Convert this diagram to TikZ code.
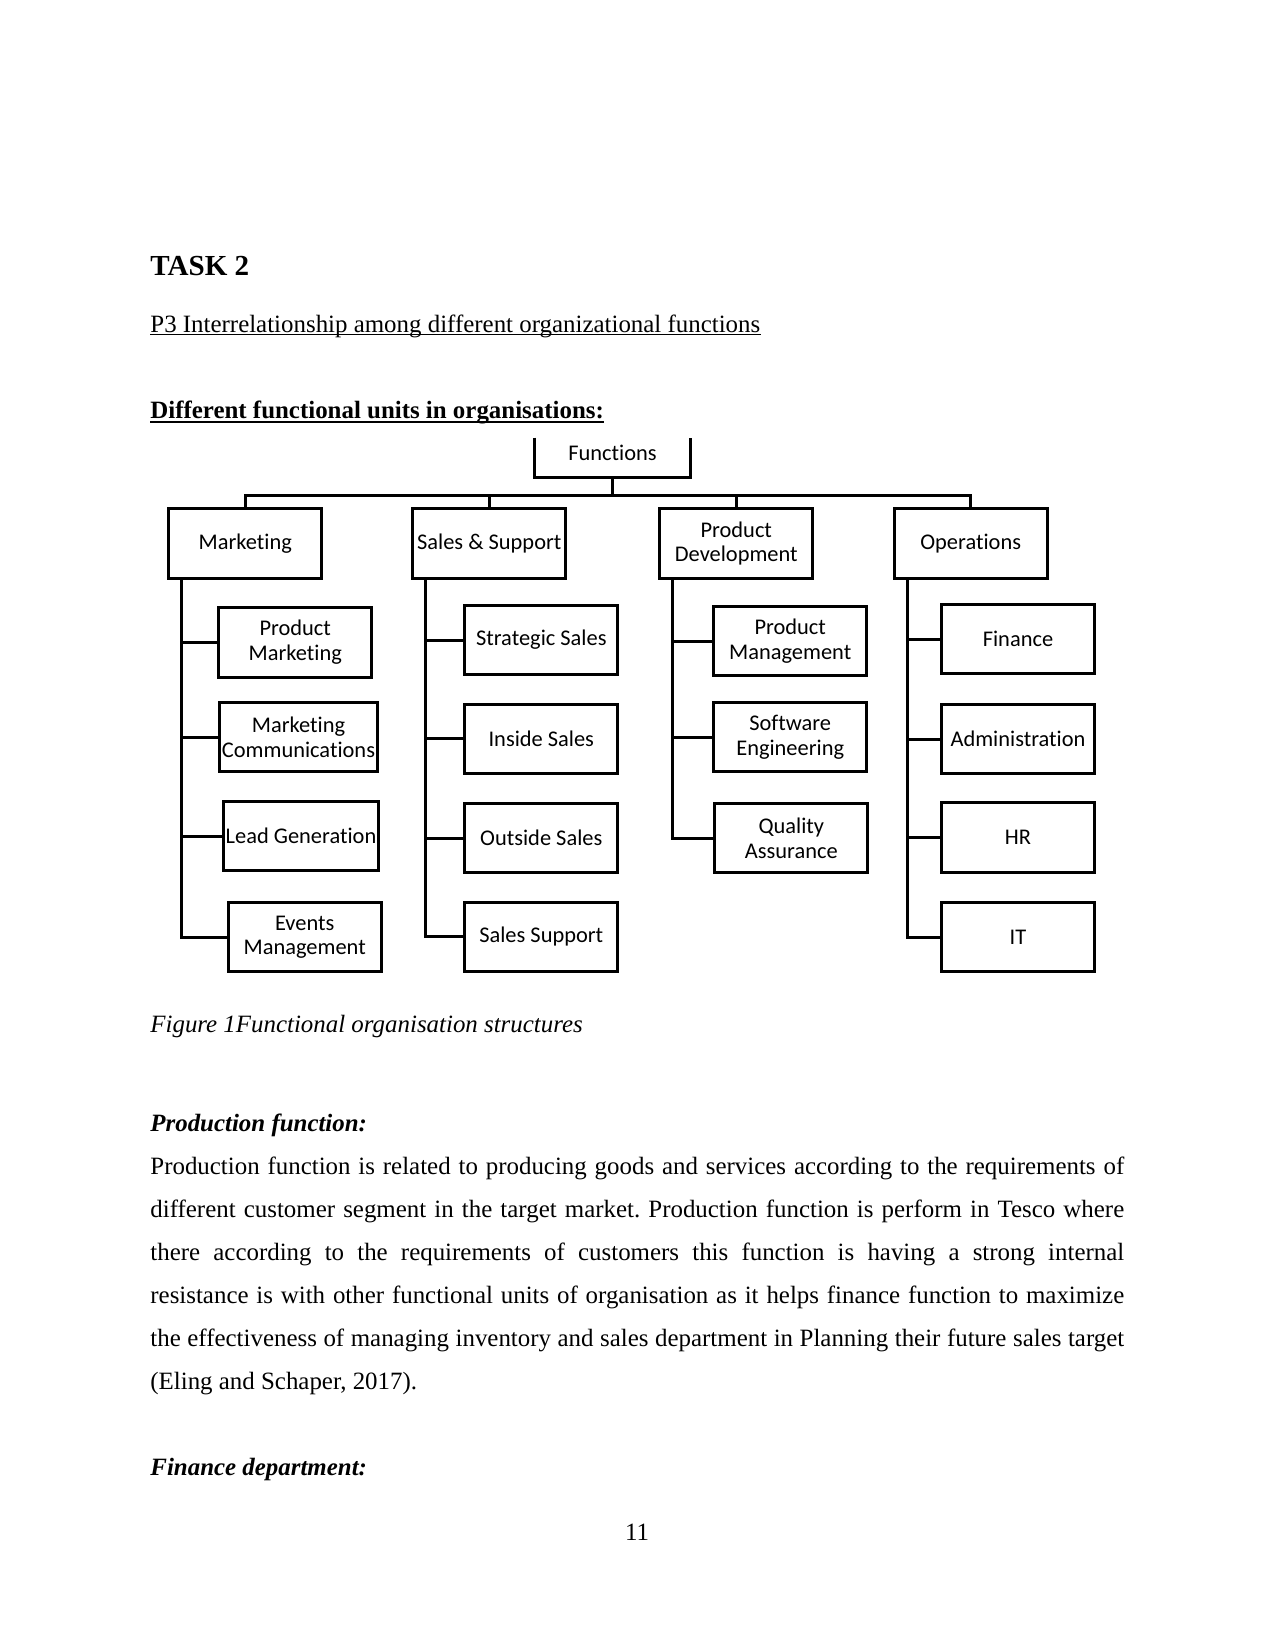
\documentclass[tikz,border=0pt]{standalone}
\usepackage{fontspec}
\setmainfont{Liberation Serif}
\newfontfamily\chartfont[Ligatures=NoCommon]{Carlito}
\usetikzlibrary{calc}
\frenchspacing

\begin{document}
\begin{tikzpicture}[
        x=0.48bp, y=-0.48bp,
        unit/.style={draw,line width=1.45pt,minimum width=73.4bp,minimum height=33.2bp,inner sep=1pt,align=center,font=\chartfont\fontsize{10.8}{12}\selectfont},
        link/.style={line width=1.45pt},
        body/.style={anchor=base west,inner sep=0pt,font=\fontsize{12}{14}\selectfont},
        uline/.style={line width=0.6pt}
      ]
        \useasboundingbox (0,0) rectangle (1275,1650);

        % page text above the chart
        \node[body,font=\fontsize{14}{16}\selectfont\bfseries] (task) at (150,275) {TASK 2};
        \node[body] (ptitle) at (150,332) {P3 Interrelationship among different organizational functions};
        \draw[uline] ([yshift=-1.3bp]ptitle.base west) -- ([yshift=-1.3bp]ptitle.base east);
        \node[body,font=\fontsize{12}{14}\selectfont\bfseries] (units) at (150,418.7) {Different functional units in organisations:};
        \draw[uline,line width=0.9pt] ([yshift=-1.4bp]units.base west) -- ([yshift=-1.4bp]units.base east);

        % chart
        \node[unit,draw=none,minimum height=19.2bp,text depth=3.4bp] (functions) at (612.5,456) {Functions};
        \draw[link] ([yshift=-1.5bp]functions.north west) |- (functions.south east) -- ([yshift=-1.5bp]functions.north east);

        \node[unit] (mkt)   at (245.3,543.5) {Marketing};
        \node[unit] (sales) at (489.3,543.5) {Sales \& Support};
        \node[unit] (pdev)  at (736.3,543.5) {Product\\Development};
        \node[unit] (ops)   at (970.7,543.5) {Operations};

        \node[unit] (pm)  at (295.2,642.5) {Product\\Marketing};
        \node[unit] (mc)  at (298.5,737)   {Marketing\\Communications};
        \node[unit] (lg)  at (301,836.2)   {Lead Generation};
        \node[unit] (em)  at (304.7,937.2) {Events\\Management};

        \node[unit] (ss)  at (541.3,640)   {Strategic Sales};
        \node[unit] (ins) at (541.3,738.7) {Inside Sales};
        \node[unit] (os)  at (541.3,838)   {Outside Sales};
        \node[unit] (sup) at (541.3,936.9) {Sales Support};

        \node[unit] (pmg) at (790.2,641)   {Product\\Management};
        \node[unit] (se)  at (790.2,737)   {Software\\Engineering};
        \node[unit] (qa)  at (791.3,838)   {Quality\\Assurance};

        \node[unit] (fin) at (1018,639.3)  {Finance};
        \node[unit] (adm) at (1018,739)    {Administration};
        \node[unit] (hr)  at (1018,837.5)  {HR};
        \node[unit] (it)  at (1018,937.2)  {IT};

        \coordinate (bus) at (612.5,495);
        \draw[link] (functions.south) -- (bus);
        \foreach \u in {mkt,sales,pdev,ops}
          \draw[link] (\u.north) |- (bus);

        \foreach \u/\kids in {mkt/{pm,mc,lg,em},sales/{ss,ins,os,sup},pdev/{pmg,se,qa},ops/{fin,adm,hr,it}}
          \foreach \k in \kids
            \draw[link] ($(\u.south west)+(14.5,0)$) |- (\k.west);

        % caption and text below
        \node[body,font=\fontsize{12}{14}\selectfont\itshape] (caption) at (150,1032) {Figure 1Functional organisation structures};
        \node[body,font=\fontsize{12}{14}\selectfont\bfseries\itshape] (prodhead) at (150,1131) {Production function:};
        \node[body] (l1) at (150,1174) {\makebox[467.4bp][s]{Production function is related to producing goods and services according to the requirements of}};
        \node[body] (l2) at (150,1217) {\makebox[467.4bp][s]{different customer segment in the target market. Production function is perform in Tesco where}};
        \node[body] (l3) at (150,1260) {\makebox[467.4bp][s]{there according to the requirements of customers this function is having a strong internal}};
        \node[body] (l4) at (150,1303) {\makebox[467.4bp][s]{resistance is with other functional units of organisation as it helps finance function to maximize}};
        \node[body] (l5) at (150,1346) {\makebox[467.4bp][s]{the effectiveness of managing inventory and sales department in Planning their future sales target}};
        \node[body] (l6) at (150,1389) {(Eling and Schaper, 2017).};
        \node[body,font=\fontsize{12}{14}\selectfont\bfseries\itshape] (finhead) at (150,1475) {Finance department:};
        \node[body,anchor=base] (pageno) at (637,1540) {11};
      \end{tikzpicture}
\end{document}
